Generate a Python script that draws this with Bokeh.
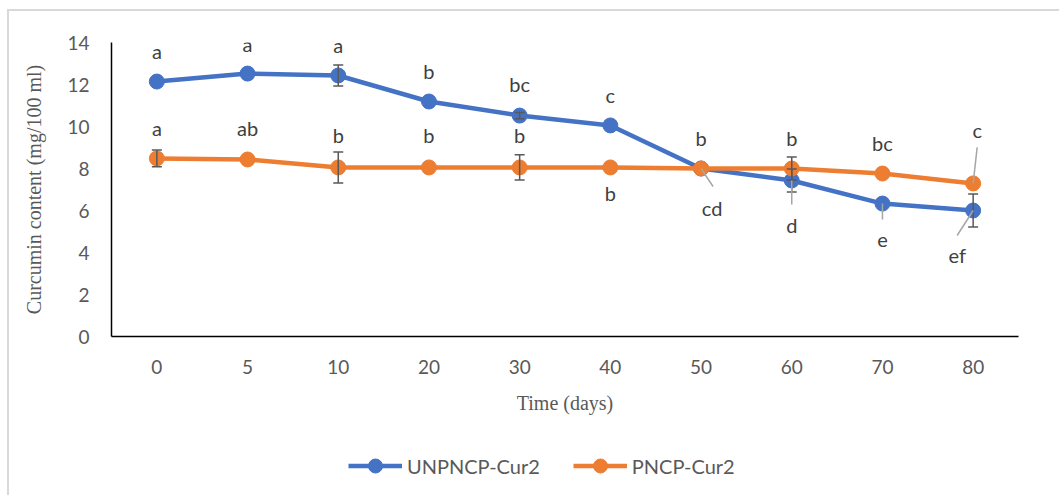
import numpy as np
from bokeh.plotting import figure
from bokeh.layouts import column
from bokeh.models import Range1d, FixedTicker, Legend, LegendItem, ColumnDataSource
from bokeh.core.properties import value
from bokeh.embed import file_html
from bokeh.resources import INLINE

# ---- data ----
days = ["0", "5", "10", "20", "30", "40", "50", "60", "70", "80"]
unp_values = [12.14, 12.52, 12.43, 11.19, 10.52, 10.05, 8.00, 7.43, 6.33, 6.00]
unp_errors = [0.0, 0.0, 0.5, 0.0, 0.15, 0.0, 0.0, 0.55, 0.0, 0.78]
unp_letters = ["a", "a", "a", "b", "bc", "c", "cd", "d", "e", "ef"]
p_values = [8.48, 8.43, 8.05, 8.05, 8.05, 8.05, 8.00, 8.00, 7.76, 7.29]
p_errors = [0.4, 0.0, 0.74, 0.0, 0.6, 0.0, 0.0, 0.55, 0.0, 0.0]
p_letters = ["a", "ab", "b", "b", "b", "b", "b", "b", "bc", "c"]
y_ticks = [0, 2, 4, 6, 8, 10, 12, 14]
series_names = ["UNPNCP-Cur2", "PNCP-Cur2"]

# ---- label placement (styling, pixels) ----
unp_dx = [0, 0, 0, 0, 0, 0, 11, 0, 0, -16]
unp_dy = [-31, -30, -30, -31, -32, -30, 39, 45, 36, 44]
p_dx = [0, 0, 0, 0, 0, 0, 0, 0, 0, 4]
p_dy = [-30, -31, -32, -32, -32, 26, -31, -31, -31, -53]

BLUE = "#4472C4"
ORANGE = "#ED7D31"
GREY = "#595959"
BORDER = "#d9d9d9"

x = np.arange(len(days))

p = figure(width=1059, height=420, output_backend="svg", toolbar_location=None,
           x_range=Range1d(-0.5, len(days) - 0.5), y_range=Range1d(0, 14),
           min_border_left=111, min_border_right=41, min_border_top=42,
           min_border_bottom=84, frame_width=907, frame_height=294)
p.outline_line_color = None
p.border_fill_alpha = 0
p.background_fill_color = "white"
p.xgrid.visible = False
p.ygrid.visible = False
p.styles = {
    "background": (f"linear-gradient({BORDER}, {BORDER}) 7px 9px / 2px 100% no-repeat, "
                   f"linear-gradient({BORDER}, {BORDER}) 7px 9px / 100% 2px no-repeat, white"),
}

px_x = 907 / len(days)
px_y = 294 / 14

# lines + markers
ub = ColumnDataSource(dict(x=x, y=unp_values))
pb = ColumnDataSource(dict(x=x, y=p_values))
p.line("x", "y", source=ub, line_color=BLUE, line_width=4.5)
p.scatter("x", "y", source=ub, size=15, fill_color=BLUE, line_color=BLUE)
p.line("x", "y", source=pb, line_color=ORANGE, line_width=4.5)
p.scatter("x", "y", source=pb, size=15, fill_color=ORANGE, line_color=ORANGE)

# error bars
cap = 5 / px_x
for vals, errs in ((unp_values, unp_errors), (p_values, p_errors)):
    xs = [i for i, e in enumerate(errs) if e > 0]
    lo = [vals[i] - errs[i] for i in xs]
    hi = [vals[i] + errs[i] for i in xs]
    p.segment(x0=xs, y0=lo, x1=xs, y1=hi, line_color=GREY, line_width=1.5)
    p.segment(x0=[i - cap for i in xs], y0=lo, x1=[i + cap for i in xs], y1=lo,
              line_color=GREY, line_width=1.5)
    p.segment(x0=[i - cap for i in xs], y0=hi, x1=[i + cap for i in xs], y1=hi,
              line_color=GREY, line_width=1.5)

# leader lines for some labels
lead_x0, lead_y0, lead_x1, lead_y1 = [], [], [], []
for i, (ex, ey) in {6: (12, 18), 7: (0, 24), 8: (0, 16), 9: (-16, 25)}.items():
    lead_x0.append(x[i]); lead_y0.append(unp_values[i])
    lead_x1.append(x[i] + ex / px_x); lead_y1.append(unp_values[i] - ey / px_y)
lead_x0.append(x[9] + 4 / px_x); lead_y0.append(p_values[9] + 36 / px_y)
lead_x1.append(x[9]); lead_y1.append(p_values[9])
p.segment(x0=lead_x0, y0=lead_y0, x1=lead_x1, y1=lead_y1, line_color="#a6a6a6", line_width=1.5)

# letters
for vals, letters, dx, dy in ((unp_values, unp_letters, unp_dx, unp_dy),
                              (p_values, p_letters, p_dx, p_dy)):
    src = ColumnDataSource(dict(x=x, y=vals, t=letters, dx=dx, dy=dy))
    p.text("x", "y", text="t", source=src, x_offset="dx", y_offset="dy",
           text_align="center", text_baseline="middle",
           text_font=value("Lato"), text_font_size="20px", text_color="#404040")

# axes
p.xaxis.ticker = FixedTicker(ticks=list(x))
p.xaxis.major_label_overrides = {int(i): d for i, d in zip(x, days)}
p.yaxis.ticker = FixedTicker(ticks=y_ticks)
for ax in (p.xaxis[0], p.yaxis[0]):
    ax.axis_line_color = "black"
    ax.axis_line_width = 1.5
    ax.major_tick_line_color = None
    ax.minor_tick_line_color = None
    ax.major_tick_out = 0
    ax.major_tick_in = 0
    ax.minor_tick_out = 0
    ax.major_label_text_font = "Lato"
    ax.major_label_text_font_size = "19px"
    ax.major_label_text_color = GREY
    ax.axis_label_text_font = "Liberation Serif"
    ax.axis_label_text_font_size = "20px"
    ax.axis_label_text_font_style = "normal"
    ax.axis_label_text_color = GREY
p.xaxis.axis_label = "Time (days)"
p.yaxis.axis_label = "Curcumin content (mg/100 ml)"
p.xaxis.major_label_standoff = 23
p.xaxis.axis_label_standoff = 15
p.yaxis.major_label_standoff = 22
p.yaxis.axis_label_standoff = 19

# ---- legend strip below the chart ----
lf = figure(width=1059, height=75, output_backend="svg", toolbar_location=None,
            x_range=Range1d(0, 1), y_range=Range1d(0, 1),
            x_axis_location=None, y_axis_location=None,
            min_border_left=0, min_border_right=0, min_border_top=0, min_border_bottom=0)
lf.outline_line_color = None
lf.grid.visible = False
lf.background_fill_alpha = 0
lf.border_fill_alpha = 0
lf.styles = {
    "background": f"linear-gradient({BORDER}, {BORDER}) 7px 0px / 2px 100% no-repeat, white",
}
items = []
for name, col, vals in zip(series_names, (BLUE, ORANGE), (unp_values, p_values)):
    # series drawn off-range: only used for the legend glyphs
    src = ColumnDataSource(dict(x=x + 100, y=vals))
    r1 = lf.line("x", "y", source=src, line_color=col, line_width=4.5)
    r2 = lf.scatter("x", "y", source=src, size=15, fill_color=col, line_color=col)
    items.append(LegendItem(label=name, renderers=[r1, r2]))
legend = Legend(items=items, orientation="horizontal", location=(237, 12),
                glyph_width=54, glyph_height=35, label_standoff=5, spacing=33,
                label_text_font="Lato", label_text_font_size="20px",
                label_text_color=GREY, border_line_color=None,
                background_fill_alpha=0, padding=5, margin=0)
lf.add_layout(legend, "center")

layout = column(p, lf, spacing=0)
open("out.html", "w").write(file_html(layout, INLINE))
